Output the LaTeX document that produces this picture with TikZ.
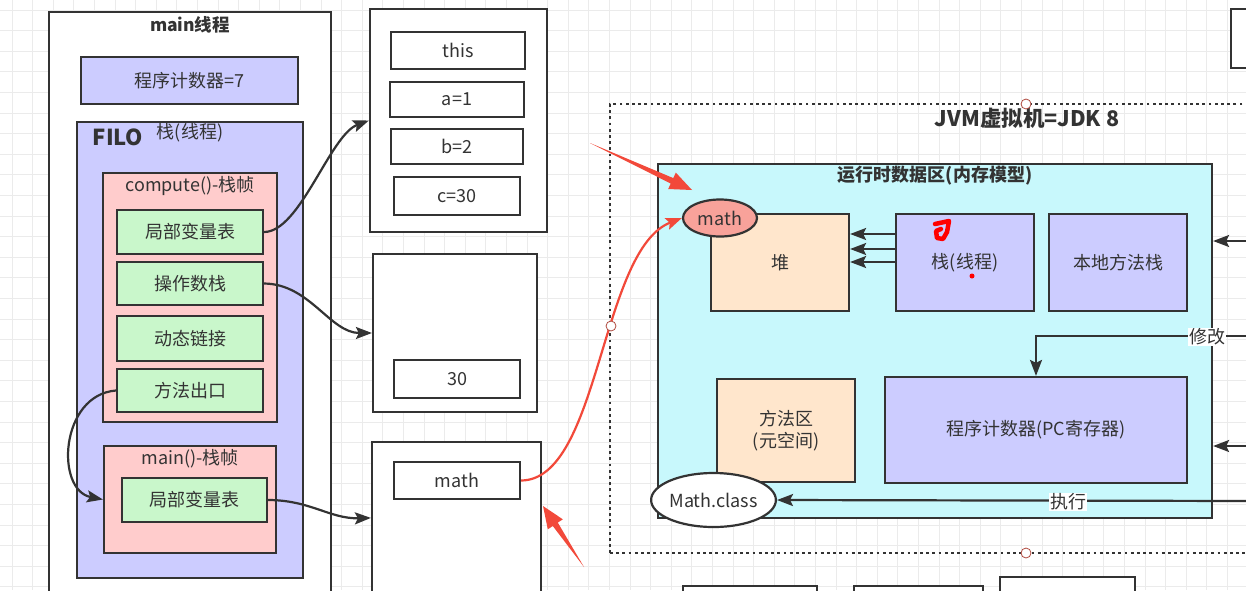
\documentclass[tikz,border=0pt]{standalone}
\usepackage{fontspec}
\setmainfont{Noto Sans CJK SC}
\usetikzlibrary{arrows.meta,calc,shapes.geometric}
\definecolor{ink}{HTML}{333333}
\definecolor{lav}{HTML}{CCCCFF}
\definecolor{pinkf}{HTML}{FFCCCC}
\definecolor{greenf}{HTML}{C9F7CB}
\definecolor{peach}{HTML}{FFE6CC}
\definecolor{cyanf}{HTML}{C8F8FC}
\definecolor{salmon}{HTML}{F8A29A}
\definecolor{redc}{HTML}{F2493A}
\definecolor{gridc}{HTML}{EBEBEB}
\definecolor{handle}{HTML}{B04A40}
\tikzset{
  box/.style={draw=ink, line width=2.2pt, text=ink, inner sep=0pt, font=\fontsize{18}{22}\selectfont},
  lbl/.style={text=ink, inner sep=0pt, font=\fontsize{18}{22}\selectfont},
  ttl/.style={text=ink, inner sep=0pt, font=\fontsize{17.5}{21}\selectfont\bfseries},
  conn/.style={draw=ink, line width=2.2pt, -{Stealth[length=16pt,width=12pt,inset=3pt]}},
  redconn/.style={draw=redc, line width=2.2pt, -{Stealth[length=16pt,width=12pt,inset=3pt]}},
  gridline/.style={draw=gridc, line width=1pt},
  hdl/.style={circle, draw=handle, fill=white, line width=0.8pt, minimum size=10pt, inner sep=0pt},
  onlbl/.style={fill=white, text=ink, inner sep=1pt, font=\fontsize{18}{22}\selectfont}
}
\begin{document}
\begin{tikzpicture}[x=1pt,y=-1pt]
\useasboundingbox (0,0) rectangle (1246,590);
\clip (0,0) rectangle (1246,590);
\fill[white] (0,0) rectangle (1246,590);
% grid
\foreach \i in {0,...,60} {\draw[gridline] ({12+20.6*\i},0) -- ({12+20.6*\i},590);}
\foreach \j in {0,...,28} {\draw[gridline] (0,{10+20.6*\j}) -- (1246,{10+20.6*\j});}

% ---------- main thread ----------
\node[box, fill=white, minimum width=282pt, minimum height=608pt] (mainthread) at (190,316) {};
\node[ttl] (mainttl) at (190,25) {main线程};
\node[box, fill=lav, minimum width=217pt, minimum height=47pt] (pc7) at (189.5,80.5) {程序计数器=7};
\node[box, fill=lav, minimum width=226pt, minimum height=456pt] (stack) at (190,350) {};
\node[text=ink, inner sep=0pt, font=\fontsize{22}{26}\selectfont\bfseries] (filo) at (118,137) {FILO};
\node[lbl] (stackttl) at (190,133) {栈(线程)};
\node[box, fill=pinkf, minimum width=174pt, minimum height=249pt] (compute) at (190,297.5) {};
\node[lbl] (computettl) at (190,186) {compute()-栈帧};
\node[box, fill=greenf, minimum width=146pt, minimum height=44pt] (lv1) at (190,232) {局部变量表};
\node[box, fill=greenf, minimum width=146pt, minimum height=43pt] (ops) at (190,283.5) {操作数栈};
\node[box, fill=greenf, minimum width=146pt, minimum height=45pt] (dyn) at (190,338.5) {动态链接};
\node[box, fill=greenf, minimum width=146pt, minimum height=43pt] (ret) at (190,390.5) {方法出口};
\node[box, fill=pinkf, minimum width=172pt, minimum height=107pt] (mainframe) at (190,499.5) {};
\node[lbl] (mainframettl) at (190,459) {main()-栈帧};
\node[box, fill=greenf, minimum width=145pt, minimum height=44pt] (lv2) at (194.5,500) {局部变量表};

% ---------- middle column ----------
\node[box, fill=white, minimum width=177pt, minimum height=223pt] (box1) at (458.5,120.5) {};
\node[box, fill=white, minimum width=134pt, minimum height=37pt] (vthis) at (458,50.5) {this};
\node[box, fill=white, minimum width=134pt, minimum height=35pt] (va) at (457,99.5) {a=1};
\node[box, fill=white, minimum width=132pt, minimum height=35pt] (vb) at (457,146.5) {b=2};
\node[box, fill=white, minimum width=126pt, minimum height=38pt] (vc) at (457,196) {c=30};
\node[box, fill=white, minimum width=164pt, minimum height=158pt] (box2) at (455,333) {};
\node[box, fill=white, minimum width=126pt, minimum height=38pt] (v30) at (457,379) {30};
\node[box, fill=white, minimum width=169pt, minimum height=198pt] (box3) at (456.5,541) {};
\node[box, fill=white, minimum width=126pt, minimum height=37pt] (mathref) at (457,480.5) {math};
\coordinate (b3in) at ([yshift=-77pt]box3.north west);

% ---------- JVM ----------
\node[draw=ink, line width=2.8pt, dash pattern=on 2.8pt off 3.4pt, minimum width=690pt, minimum height=449pt, inner sep=0pt] (jvm) at (955,328.5) {};
\node[text=ink, inner sep=0pt, font=\fontsize{21.5}{25}\selectfont\bfseries] (jvmttl) at (1027,118) {JVM虚拟机=JDK 8};
\node[box, fill=cyanf, minimum width=554pt, minimum height=354pt] (rda) at (935,341) {};
\node[text=ink, inner sep=0pt, font=\fontsize{18}{22}\selectfont\bfseries] (rdattl) at (935,176) {运行时数据区(内存模型)};
\node[box, fill=peach, minimum width=138pt, minimum height=97pt] (heap) at (780,262.5) {堆};
\node[box, fill=lav, minimum width=138pt, minimum height=97pt] (jstack) at (965,262.5) {栈(线程)};
\node[box, fill=lav, minimum width=138pt, minimum height=97pt] (native) at (1118,262.5) {本地方法栈};
\node[box, fill=peach, minimum width=138pt, minimum height=103pt, align=center] (methodarea) at (786,430.5) {方法区\\(元空间)};
\node[box, fill=lav, minimum width=302pt, minimum height=106pt] (pcreg) at (1036,430) {程序计数器(PC寄存器)};
\node[box, ellipse, fill=salmon, minimum width=74pt, minimum height=37pt] (mathobj) at (720,218) {math};
\node[box, ellipse, fill=white, minimum width=121pt, minimum height=54pt] (mathclass) at (713.5,500) {Math.class};

% stack -> heap
\draw[conn] ([yshift=28.5pt]jstack.west) -- ([yshift=28.5pt]heap.east);
\draw[conn] ([yshift=13.5pt]jstack.west) -- ([yshift=13.5pt]heap.east);
\draw[conn] ([yshift=0.5pt]jstack.west) -- ([yshift=0.5pt]heap.east);

% right side connectors
\coordinate (in1) at (1250,241);
\coordinate (in2) at (1250,446);
\coordinate (mod) at (1250,336);
\coordinate (exe) at (1250,501);
\draw[conn] (in1) -- (in1 -| rda.east);
\draw[conn] (in2) -- (in2 -| rda.east);
\draw[conn] (mod) -| (pcreg.north);
\node[onlbl] (modlbl) at (1207,337) {修改};
\draw[conn] (exe) -- (mathclass.east);
\node[onlbl] (exelbl) at (1068,502) {执行};

% other boxes
\node[box, fill=white, minimum width=69pt, minimum height=59pt] (topright) at (1265.5,38.5) {};
\node[box, fill=white, minimum width=134pt, minimum height=34pt] (bA) at (750,603) {};
\node[box, fill=white, minimum width=129pt, minimum height=34pt] (bB) at (918.5,603) {};
\node[box, fill=white, minimum width=135pt, minimum height=43pt] (bC) at (1067.5,598.5) {};

% ---------- left connectors ----------
\draw[conn] (lv1.east) .. controls (300,232) and (330,135) .. (box1.west);
\draw[conn] (ops.east) .. controls (310,284) and (330,333) .. (box2.west);
\draw[conn] (ret.west) .. controls (60,395) and (55,490) .. (mainframe.west);
\draw[conn] (lv2.east) .. controls (310,500) and (330,519) .. (b3in);
\draw[redconn] (mathref.east) .. controls (600,480) and (600,250) .. (mathobj.west);

% handles
\node[hdl] (h1) at (611,326) {};
\node[hdl] (h2) at (1026,104) {};
\node[hdl] (h3) at (1026,553) {};

% red annotations
\fill[redc] (590,143) -- (670.7,183.5) -- (668.2,189.0) -- (692,190) -- (675.8,172.6) -- (673.3,178.1) -- cycle;
\fill[redc] (584,567) -- (557.8,522.6) -- (562.8,519.3) -- (543,506) -- (547.8,529.3) -- (552.8,526.0) -- cycle;
\draw[red, line width=4.5pt, line cap=round, line join=round] (935,224) -- (949,221) -- (947,232) -- (943,239) -- (937,238) -- (936,231) -- (941,229);
\fill[red] (972,276) circle (2.5);
\end{tikzpicture}
\end{document}
